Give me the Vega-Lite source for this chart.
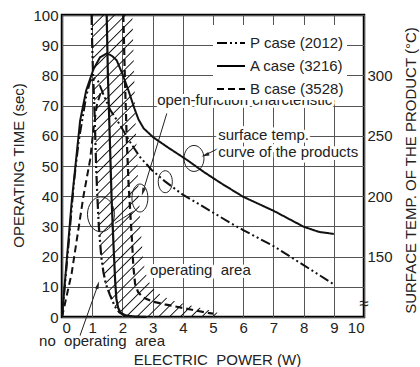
{
  "$schema": "https://vega.github.io/schema/vega-lite/v6.json",
  "width": 302,
  "height": 302,
  "autosize": {"type": "none"},
  "padding": {"left": 62, "top": 15, "right": 56, "bottom": 50},
  "background": "white",
  "config": {
    "font": "Liberation Sans",
    "view": {"stroke": "#000", "strokeWidth": 2.5},
    "axis": {"grid": true, "gridColor": "#555", "gridWidth": 1, "gridOpacity": 1, "domain": false, "ticks": false, "labelOverlap": false, "labelFont": "Liberation Sans", "labelFontSize": 15, "labelColor": "#222", "titleFont": "Liberation Sans", "titleFontSize": 15, "titleFontWeight": "normal", "titleColor": "#222"},
    "legend": {"orient": "none", "legendX": 151, "legendY": 10, "fillColor": "white", "padding": 3, "symbolType": "stroke", "symbolSize": 784, "symbolStrokeWidth": 2, "symbolStrokeColor": "#000", "labelFontSize": 15, "labelFont": "Liberation Sans", "labelColor": "#222", "labelOffset": 4, "rowPadding": 0, "title": null}
  },
  "datasets": {
    "band": [
      {"y": 100, "x": 0.98, "xr": 2.33},
      {"y": 90, "x": 1.0, "xr": 2.36},
      {"y": 80, "x": 1.03, "xr": 2.39},
      {"y": 70, "x": 1.07, "xr": 2.42},
      {"y": 60, "x": 1.1, "xr": 2.45},
      {"y": 50, "x": 1.13, "xr": 2.5},
      {"y": 40, "x": 1.17, "xr": 2.55},
      {"y": 30, "x": 1.22, "xr": 2.6},
      {"y": 20, "x": 1.3, "xr": 2.68},
      {"y": 15, "x": 1.37, "xr": 2.75},
      {"y": 10, "x": 1.45, "xr": 2.95},
      {"y": 7, "x": 1.58, "xr": 3.3},
      {"y": 5, "x": 1.68, "xr": 3.8},
      {"y": 3.5, "x": 1.75, "xr": 4.4},
      {"y": 2, "x": 1.85, "xr": 5.0},
      {"y": 1, "x": 1.95, "xr": 5.25},
      {"y": 0, "x": 2.05, "xr": 5.3}
    ],
    "op": [
      {"case": "P case (2012)", "x": 0.98, "y": 100},
      {"case": "P case (2012)", "x": 1.0, "y": 90},
      {"case": "P case (2012)", "x": 1.03, "y": 80},
      {"case": "P case (2012)", "x": 1.07, "y": 70},
      {"case": "P case (2012)", "x": 1.1, "y": 60},
      {"case": "P case (2012)", "x": 1.13, "y": 50},
      {"case": "P case (2012)", "x": 1.17, "y": 40},
      {"case": "P case (2012)", "x": 1.22, "y": 30},
      {"case": "P case (2012)", "x": 1.3, "y": 20},
      {"case": "P case (2012)", "x": 1.37, "y": 15},
      {"case": "P case (2012)", "x": 1.45, "y": 11},
      {"case": "P case (2012)", "x": 1.58, "y": 7.5},
      {"case": "P case (2012)", "x": 1.75, "y": 3.5},
      {"case": "P case (2012)", "x": 1.9, "y": 1.5},
      {"case": "P case (2012)", "x": 2.1, "y": 0.5},
      {"case": "P case (2012)", "x": 2.4, "y": 0.1},
      {"case": "A case (3216)", "x": 1.48, "y": 100},
      {"case": "A case (3216)", "x": 1.52, "y": 80},
      {"case": "A case (3216)", "x": 1.58, "y": 60},
      {"case": "A case (3216)", "x": 1.64, "y": 40},
      {"case": "A case (3216)", "x": 1.7, "y": 25},
      {"case": "A case (3216)", "x": 1.76, "y": 12},
      {"case": "A case (3216)", "x": 1.8, "y": 6},
      {"case": "A case (3216)", "x": 1.86, "y": 3},
      {"case": "A case (3216)", "x": 1.95, "y": 1.3},
      {"case": "A case (3216)", "x": 2.1, "y": 0.5},
      {"case": "A case (3216)", "x": 2.4, "y": 0.15},
      {"case": "A case (3216)", "x": 2.8, "y": 0},
      {"case": "B case (3528)", "x": 2.03, "y": 100},
      {"case": "B case (3528)", "x": 2.08, "y": 80},
      {"case": "B case (3528)", "x": 2.14, "y": 60},
      {"case": "B case (3528)", "x": 2.2, "y": 45},
      {"case": "B case (3528)", "x": 2.27, "y": 33},
      {"case": "B case (3528)", "x": 2.32, "y": 25},
      {"case": "B case (3528)", "x": 2.36, "y": 17},
      {"case": "B case (3528)", "x": 2.42, "y": 11},
      {"case": "B case (3528)", "x": 2.52, "y": 8.2},
      {"case": "B case (3528)", "x": 2.68, "y": 6.5},
      {"case": "B case (3528)", "x": 3.0, "y": 5.1},
      {"case": "B case (3528)", "x": 3.4, "y": 4.2},
      {"case": "B case (3528)", "x": 3.8, "y": 3.4},
      {"case": "B case (3528)", "x": 4.3, "y": 2.4},
      {"case": "B case (3528)", "x": 4.8, "y": 1.4},
      {"case": "B case (3528)", "x": 5.0, "y": 1.1}
    ],
    "temp": [
      {"case": "P case (2012)", "x": 0, "y": 100},
      {"case": "P case (2012)", "x": 0.2, "y": 155},
      {"case": "P case (2012)", "x": 0.4, "y": 212.5},
      {"case": "P case (2012)", "x": 0.55, "y": 245},
      {"case": "P case (2012)", "x": 0.65, "y": 260},
      {"case": "P case (2012)", "x": 0.8, "y": 282.5},
      {"case": "P case (2012)", "x": 0.93, "y": 295},
      {"case": "P case (2012)", "x": 1.03, "y": 298.25},
      {"case": "P case (2012)", "x": 1.2, "y": 295},
      {"case": "P case (2012)", "x": 1.4, "y": 282.5},
      {"case": "P case (2012)", "x": 1.6, "y": 271.25},
      {"case": "P case (2012)", "x": 1.92, "y": 259},
      {"case": "P case (2012)", "x": 2.25, "y": 245},
      {"case": "P case (2012)", "x": 2.58, "y": 232.5},
      {"case": "P case (2012)", "x": 2.97, "y": 221.75},
      {"case": "P case (2012)", "x": 3.4, "y": 212.5},
      {"case": "P case (2012)", "x": 4.0, "y": 201.25},
      {"case": "P case (2012)", "x": 4.6, "y": 192.5},
      {"case": "P case (2012)", "x": 5.6, "y": 177.5},
      {"case": "P case (2012)", "x": 6.0, "y": 172},
      {"case": "P case (2012)", "x": 7.0, "y": 158.75},
      {"case": "P case (2012)", "x": 8.0, "y": 143},
      {"case": "P case (2012)", "x": 8.5, "y": 135},
      {"case": "P case (2012)", "x": 9.0, "y": 127},
      {"case": "A case (3216)", "x": 0, "y": 100},
      {"case": "A case (3216)", "x": 0.15, "y": 145},
      {"case": "A case (3216)", "x": 0.32, "y": 195},
      {"case": "A case (3216)", "x": 0.6, "y": 262.5},
      {"case": "A case (3216)", "x": 0.8, "y": 287.5},
      {"case": "A case (3216)", "x": 1.04, "y": 305},
      {"case": "A case (3216)", "x": 1.26, "y": 315},
      {"case": "A case (3216)", "x": 1.48, "y": 318.25},
      {"case": "A case (3216)", "x": 1.65, "y": 316.25},
      {"case": "A case (3216)", "x": 1.81, "y": 312.5},
      {"case": "A case (3216)", "x": 2.0, "y": 301.25},
      {"case": "A case (3216)", "x": 2.2, "y": 287.5},
      {"case": "A case (3216)", "x": 2.4, "y": 272.5},
      {"case": "A case (3216)", "x": 2.53, "y": 263.75},
      {"case": "A case (3216)", "x": 2.7, "y": 256.25},
      {"case": "A case (3216)", "x": 3.02, "y": 248.75},
      {"case": "A case (3216)", "x": 3.5, "y": 240.5},
      {"case": "A case (3216)", "x": 4.14, "y": 230},
      {"case": "A case (3216)", "x": 4.7, "y": 220},
      {"case": "A case (3216)", "x": 5.25, "y": 211},
      {"case": "A case (3216)", "x": 6.0, "y": 199.5},
      {"case": "A case (3216)", "x": 7.0, "y": 188},
      {"case": "A case (3216)", "x": 8.0, "y": 174.75},
      {"case": "A case (3216)", "x": 8.5, "y": 170.5},
      {"case": "A case (3216)", "x": 9.0, "y": 168.75},
      {"case": "B case (3528)", "x": 0, "y": 100},
      {"case": "B case (3528)", "x": 0.32, "y": 136.25},
      {"case": "B case (3528)", "x": 0.54, "y": 172},
      {"case": "B case (3528)", "x": 0.71, "y": 200},
      {"case": "B case (3528)", "x": 0.93, "y": 230},
      {"case": "B case (3528)", "x": 1.04, "y": 255},
      {"case": "B case (3528)", "x": 1.15, "y": 275},
      {"case": "B case (3528)", "x": 1.3, "y": 287.5}
    ],
    "notes": [
      {"x": 3.15, "y": 70.2, "label": "open-function charcteristic"},
      {"x": 5.17, "y": 58.6, "label": "surface temp."},
      {"x": 5.17, "y": 53.1, "label": "curve of the products"},
      {"x": 2.91, "y": 13.9, "label": "operating\u00a0 area"},
      {"x": -0.76, "y": -9.5, "label": "no\u00a0 operating\u00a0 area"}
    ],
    "leaders": [
      {"x": 3.47, "y": 67.4, "x2": 2.68, "y2": 41.4},
      {"x": 2.37, "y": 35, "x2": 1.75, "y2": 31},
      {"x": 0.58, "y": -6.6, "x2": 1.19, "y2": 10.6},
      {"x": 5.17, "y": 55.8, "x2": 4.74, "y2": 53.6}
    ]
  },
  "encoding": {
    "x": {"field": "x", "type": "quantitative", "scale": {"domain": [0, 10], "nice": false}, "axis": {"title": "ELECTRIC\u00a0 POWER (W)", "grid": true, "values": [0, 1, 2, 3, 4, 5, 6, 7, 8, 9, 10], "labelPadding": 3, "titleX": 155, "titleY": 47, "titleAlign": "center", "titleBaseline": "alphabetic"}}
  },
  "layer": [
    {
      "encoding": {
        "y": {"field": "y", "type": "quantitative", "scale": {"domain": [0, 100], "nice": false}, "axis": {"title": "OPERATING TIME (sec)", "grid": true, "values": [0, 10, 20, 30, 40, 50, 60, 70, 80, 90, 100], "labelPadding": 4, "titleAngle": -90, "titleX": -44, "titleY": 150, "titleAlign": "center", "titleBaseline": "middle"}}
      },
      "layer": [
        {
          "data": {"name": "band"},
          "mark": {"type": "area", "orient": "horizontal", "strokeWidth": 0, "fill": {"gradient": "linear", "x1": 0, "y1": 0, "x2": 0.52, "y2": 1.207, "stops": [
            {"offset": 0, "color": "rgba(0,0,0,0)"}, {"offset": 0.003, "color": "#111"}, {"offset": 0.006, "color": "rgba(0,0,0,0)"},
            {"offset": 0.025, "color": "rgba(0,0,0,0)"}, {"offset": 0.028, "color": "#111"}, {"offset": 0.031, "color": "rgba(0,0,0,0)"},
            {"offset": 0.05, "color": "rgba(0,0,0,0)"}, {"offset": 0.053, "color": "#111"}, {"offset": 0.056, "color": "rgba(0,0,0,0)"},
            {"offset": 0.075, "color": "rgba(0,0,0,0)"}, {"offset": 0.078, "color": "#111"}, {"offset": 0.081, "color": "rgba(0,0,0,0)"},
            {"offset": 0.1, "color": "rgba(0,0,0,0)"}, {"offset": 0.103, "color": "#111"}, {"offset": 0.106, "color": "rgba(0,0,0,0)"},
            {"offset": 0.125, "color": "rgba(0,0,0,0)"}, {"offset": 0.128, "color": "#111"}, {"offset": 0.131, "color": "rgba(0,0,0,0)"},
            {"offset": 0.15, "color": "rgba(0,0,0,0)"}, {"offset": 0.153, "color": "#111"}, {"offset": 0.156, "color": "rgba(0,0,0,0)"},
            {"offset": 0.175, "color": "rgba(0,0,0,0)"}, {"offset": 0.178, "color": "#111"}, {"offset": 0.181, "color": "rgba(0,0,0,0)"},
            {"offset": 0.2, "color": "rgba(0,0,0,0)"}, {"offset": 0.203, "color": "#111"}, {"offset": 0.206, "color": "rgba(0,0,0,0)"},
            {"offset": 0.225, "color": "rgba(0,0,0,0)"}, {"offset": 0.228, "color": "#111"}, {"offset": 0.231, "color": "rgba(0,0,0,0)"},
            {"offset": 0.25, "color": "rgba(0,0,0,0)"}, {"offset": 0.253, "color": "#111"}, {"offset": 0.256, "color": "rgba(0,0,0,0)"},
            {"offset": 0.275, "color": "rgba(0,0,0,0)"}, {"offset": 0.278, "color": "#111"}, {"offset": 0.281, "color": "rgba(0,0,0,0)"},
            {"offset": 0.3, "color": "rgba(0,0,0,0)"}, {"offset": 0.303, "color": "#111"}, {"offset": 0.306, "color": "rgba(0,0,0,0)"},
            {"offset": 0.325, "color": "rgba(0,0,0,0)"}, {"offset": 0.328, "color": "#111"}, {"offset": 0.331, "color": "rgba(0,0,0,0)"},
            {"offset": 0.35, "color": "rgba(0,0,0,0)"}, {"offset": 0.353, "color": "#111"}, {"offset": 0.356, "color": "rgba(0,0,0,0)"},
            {"offset": 0.375, "color": "rgba(0,0,0,0)"}, {"offset": 0.378, "color": "#111"}, {"offset": 0.381, "color": "rgba(0,0,0,0)"},
            {"offset": 0.4, "color": "rgba(0,0,0,0)"}, {"offset": 0.403, "color": "#111"}, {"offset": 0.406, "color": "rgba(0,0,0,0)"},
            {"offset": 0.425, "color": "rgba(0,0,0,0)"}, {"offset": 0.428, "color": "#111"}, {"offset": 0.431, "color": "rgba(0,0,0,0)"},
            {"offset": 0.45, "color": "rgba(0,0,0,0)"}, {"offset": 0.453, "color": "#111"}, {"offset": 0.456, "color": "rgba(0,0,0,0)"},
            {"offset": 0.475, "color": "rgba(0,0,0,0)"}, {"offset": 0.478, "color": "#111"}, {"offset": 0.481, "color": "rgba(0,0,0,0)"},
            {"offset": 0.5, "color": "rgba(0,0,0,0)"}, {"offset": 0.503, "color": "#111"}, {"offset": 0.506, "color": "rgba(0,0,0,0)"},
            {"offset": 0.525, "color": "rgba(0,0,0,0)"}, {"offset": 0.528, "color": "#111"}, {"offset": 0.531, "color": "rgba(0,0,0,0)"},
            {"offset": 0.55, "color": "rgba(0,0,0,0)"}, {"offset": 0.553, "color": "#111"}, {"offset": 0.556, "color": "rgba(0,0,0,0)"},
            {"offset": 0.575, "color": "rgba(0,0,0,0)"}, {"offset": 0.578, "color": "#111"}, {"offset": 0.581, "color": "rgba(0,0,0,0)"},
            {"offset": 0.6, "color": "rgba(0,0,0,0)"}, {"offset": 0.603, "color": "#111"}, {"offset": 0.606, "color": "rgba(0,0,0,0)"},
            {"offset": 0.625, "color": "rgba(0,0,0,0)"}, {"offset": 0.628, "color": "#111"}, {"offset": 0.631, "color": "rgba(0,0,0,0)"},
            {"offset": 0.65, "color": "rgba(0,0,0,0)"}, {"offset": 0.653, "color": "#111"}, {"offset": 0.656, "color": "rgba(0,0,0,0)"},
            {"offset": 0.675, "color": "rgba(0,0,0,0)"}, {"offset": 0.678, "color": "#111"}, {"offset": 0.681, "color": "rgba(0,0,0,0)"},
            {"offset": 0.7, "color": "rgba(0,0,0,0)"}, {"offset": 0.703, "color": "#111"}, {"offset": 0.706, "color": "rgba(0,0,0,0)"},
            {"offset": 0.725, "color": "rgba(0,0,0,0)"}, {"offset": 0.728, "color": "#111"}, {"offset": 0.731, "color": "rgba(0,0,0,0)"},
            {"offset": 0.75, "color": "rgba(0,0,0,0)"}, {"offset": 0.753, "color": "#111"}, {"offset": 0.756, "color": "rgba(0,0,0,0)"},
            {"offset": 0.775, "color": "rgba(0,0,0,0)"}, {"offset": 0.778, "color": "#111"}, {"offset": 0.781, "color": "rgba(0,0,0,0)"},
            {"offset": 0.8, "color": "rgba(0,0,0,0)"}, {"offset": 0.803, "color": "#111"}, {"offset": 0.806, "color": "rgba(0,0,0,0)"},
            {"offset": 0.825, "color": "rgba(0,0,0,0)"}, {"offset": 0.828, "color": "#111"}, {"offset": 0.831, "color": "rgba(0,0,0,0)"},
            {"offset": 0.85, "color": "rgba(0,0,0,0)"}, {"offset": 0.853, "color": "#111"}, {"offset": 0.856, "color": "rgba(0,0,0,0)"},
            {"offset": 0.875, "color": "rgba(0,0,0,0)"}, {"offset": 0.878, "color": "#111"}, {"offset": 0.881, "color": "rgba(0,0,0,0)"},
            {"offset": 0.9, "color": "rgba(0,0,0,0)"}, {"offset": 0.903, "color": "#111"}, {"offset": 0.906, "color": "rgba(0,0,0,0)"},
            {"offset": 0.925, "color": "rgba(0,0,0,0)"}, {"offset": 0.928, "color": "#111"}, {"offset": 0.931, "color": "rgba(0,0,0,0)"},
            {"offset": 0.95, "color": "rgba(0,0,0,0)"}, {"offset": 0.953, "color": "#111"}, {"offset": 0.956, "color": "rgba(0,0,0,0)"},
            {"offset": 0.975, "color": "rgba(0,0,0,0)"}, {"offset": 0.978, "color": "#111"}, {"offset": 0.981, "color": "rgba(0,0,0,0)"},
            {"offset": 1, "color": "rgba(0,0,0,0)"}
          ]}},
          "encoding": {
            "x2": {"field": "xr"}
          }
        },
        {
          "data": {"name": "op"},
          "mark": {"type": "line", "color": "#111", "strokeWidth": 2.2},
          "encoding": {
            "detail": {"field": "case"},
            "strokeDash": {"field": "case", "type": "nominal", "scale": {"domain": ["P case (2012)", "A case (3216)", "B case (3528)"], "range": [[10, 3, 2, 3, 2, 3], [1, 0], [7, 4]]}, "legend": {"title": null}}
          }
        },
        {
          "data": {"name": "leaders"},
          "mark": {"type": "rule", "color": "#222", "strokeWidth": 1},
          "encoding": {
            "x2": {"field": "x2"},
            "y2": {"field": "y2"}
          }
        },
        {
          "data": {"values": [{"x": 1.29, "y": 34}]},
          "mark": {"type": "point", "shape": "M -0.77 0 A 0.77 1 0 1 0 0.77 0 A 0.77 1 0 1 0 -0.77 0 Z", "size": 1225, "filled": false, "stroke": "#222", "strokeWidth": 1, "opacity": 1},
          "encoding": {}
        },
        {
          "data": {"values": [{"x": 2.58, "y": 39.4}]},
          "mark": {"type": "point", "shape": "M -0.57 0 A 0.57 1 0 1 0 0.57 0 A 0.57 1 0 1 0 -0.57 0 Z", "size": 784, "filled": false, "stroke": "#222", "strokeWidth": 1, "opacity": 1},
          "encoding": {}
        },
        {
          "data": {"values": [{"x": 4.37, "y": 52.5}]},
          "mark": {"type": "point", "shape": "M -0.77 0 A 0.77 1 0 1 0 0.77 0 A 0.77 1 0 1 0 -0.77 0 Z", "size": 676, "filled": false, "stroke": "#222", "strokeWidth": 1, "opacity": 1},
          "encoding": {}
        },
        {
          "data": {"values": [{"x": 3.42, "y": 44.8}]},
          "mark": {"type": "point", "shape": "M -0.64 0 A 0.64 1 0 1 0 0.64 0 A 0.64 1 0 1 0 -0.64 0 Z", "size": 484, "filled": false, "stroke": "#222", "strokeWidth": 1, "opacity": 1},
          "encoding": {}
        },
        {
          "data": {"values": [{"x": 2.68, "y": 41.4}]},
          "mark": {"type": "point", "shape": "M 0 -1 L 0.45 1 L -0.45 1 Z", "size": 64, "filled": true, "color": "#222", "opacity": 1, "angle": 197},
          "encoding": {}
        },
        {
          "data": {"values": [{"x": 1.19, "y": 10.6}]},
          "mark": {"type": "point", "shape": "M 0 -1 L 0.45 1 L -0.45 1 Z", "size": 64, "filled": true, "color": "#222", "opacity": 1, "angle": 18},
          "encoding": {}
        },
        {
          "data": {"values": [{"x": 4.74, "y": 53.6}]},
          "mark": {"type": "point", "shape": "M 0 -1 L 0.45 1 L -0.45 1 Z", "size": 64, "filled": true, "color": "#222", "opacity": 1, "angle": 250},
          "encoding": {}
        },
        {
          "data": {"name": "notes"},
          "mark": {"type": "text", "align": "left", "baseline": "alphabetic", "fontSize": 15, "font": "Liberation Sans", "fill": "white", "stroke": "white", "strokeWidth": 6, "strokeJoin": "round"},
          "encoding": {"text": {"field": "label"}}
        },
        {
          "data": {"name": "notes"},
          "mark": {"type": "text", "align": "left", "baseline": "alphabetic", "fontSize": 15, "font": "Liberation Sans", "color": "#222"},
          "encoding": {"text": {"field": "label"}}
        }
      ]
    },
    {
      "encoding": {
        "y": {"field": "y", "type": "quantitative", "scale": {"domain": [100, 350], "nice": false}, "axis": {"orient": "right", "grid": false, "values": [150, 200, 250, 300], "labelPadding": 3, "title": "SURFACE TEMP. OF THE PRODUCT (°C)", "titleAngle": -90, "titleX": 46, "titleY": 155, "titleAlign": "center", "titleBaseline": "middle"}}
      },
      "layer": [
        {
          "data": {"name": "temp"},
          "mark": {"type": "line", "color": "#111", "strokeWidth": 2},
          "encoding": {
            "detail": {"field": "case"},
            "strokeDash": {"field": "case", "type": "nominal", "legend": null}
          }
        },
        {
          "data": {"values": [{"x": 10, "y": 110.7, "label": "≈"}]},
          "mark": {"type": "text", "align": "center", "baseline": "middle", "fontSize": 17, "font": "Liberation Sans", "color": "#222"},
          "encoding": {"text": {"field": "label"}}
        }
      ]
    }
  ],
  "resolve": {"scale": {"y": "independent"}}
}
